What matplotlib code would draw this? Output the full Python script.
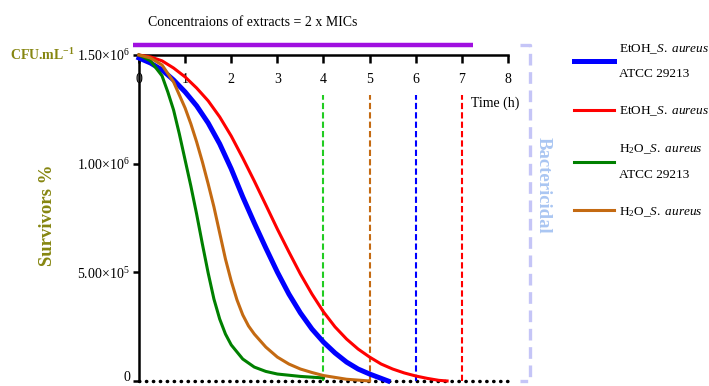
import numpy as np
import matplotlib
matplotlib.use("Agg")
import matplotlib.pyplot as plt

plt.rcParams["font.family"] = ["Liberation Serif", "DejaVu Serif"]
plt.rcParams["mathtext.fontset"] = "custom"
plt.rcParams["mathtext.rm"] = "Liberation Serif"
plt.rcParams["mathtext.it"] = "Liberation Serif:italic"
plt.rcParams["mathtext.bf"] = "Liberation Serif:bold"

# Survivors (CFU/mL), time in hours
t_etoh_atcc = [0, 0.25, 0.5, 0.75, 1.0, 1.25, 1.5, 1.75, 2.0, 2.25, 2.5, 2.75,
               3.0, 3.25, 3.5, 3.75, 4.0, 4.25, 4.5, 4.75, 5.0, 5.25, 5.4]
v_etoh_atcc = [1.486e6, 1.463e6, 1.431e6, 1.385e6, 1.330e6, 1.266e6, 1.187e6,
               1.091e6, 0.976e6, 0.847e6, 0.727e6, 0.612e6, 0.501e6, 0.400e6,
               0.313e6, 0.239e6, 0.179e6, 0.129e6, 0.087e6, 0.055e6, 0.032e6,
               0.012e6, 0.0]

t_etoh = [0, 0.25, 0.5, 0.75, 1.0, 1.25, 1.5, 1.75, 2.0, 2.25, 2.5, 2.75, 3.0,
          3.25, 3.5, 3.75, 4.0, 4.25, 4.5, 4.75, 5.0, 5.25, 5.5, 5.75, 6.0,
          6.25, 6.5, 6.68]
v_etoh = [1.500e6, 1.491e6, 1.473e6, 1.440e6, 1.399e6, 1.348e6, 1.289e6,
          1.215e6, 1.127e6, 1.026e6, 0.920e6, 0.810e6, 0.699e6, 0.594e6,
          0.492e6, 0.400e6, 0.318e6, 0.249e6, 0.193e6, 0.147e6, 0.110e6,
          0.078e6, 0.055e6, 0.037e6, 0.023e6, 0.012e6, 0.003e6, 0.0]

t_h2o_atcc = [0, 0.25, 0.5, 0.625, 0.75, 0.875, 1.0, 1.125, 1.25, 1.375, 1.5,
              1.625, 1.75, 1.875, 2.0, 2.25, 2.5, 2.75, 3.0, 3.5, 4.0]
v_h2o_atcc = [1.500e6, 1.473e6, 1.404e6, 1.330e6, 1.247e6, 1.137e6, 1.017e6,
              0.897e6, 0.768e6, 0.630e6, 0.497e6, 0.377e6, 0.285e6, 0.216e6,
              0.166e6, 0.101e6, 0.064e6, 0.044e6, 0.032e6, 0.021e6, 0.014e6]

t_h2o = [0, 0.25, 0.5, 0.75, 1.0, 1.125, 1.25, 1.375, 1.5, 1.625, 1.75, 1.875,
         2.0, 2.125, 2.25, 2.375, 2.5, 2.75, 3.0, 3.25, 3.5, 3.75, 4.0, 4.5,
         5.0]
v_h2o = [1.500e6, 1.486e6, 1.454e6, 1.376e6, 1.256e6, 1.183e6, 1.100e6,
         1.008e6, 0.907e6, 0.801e6, 0.681e6, 0.561e6, 0.460e6, 0.373e6,
         0.304e6, 0.253e6, 0.216e6, 0.156e6, 0.110e6, 0.078e6, 0.055e6,
         0.039e6, 0.025e6, 0.008e6, 0.0]

# bactericidal time for each extract
kill_times = [4, 5, 6, 7]
kill_colors = ["#22cc22", "#c46a12", "#0000ff", "#ff0000"]

x_ticks = [0, 1, 2, 3, 4, 5, 6, 7, 8]
y_ticks = [0, 5e5, 1e6, 1.5e6]
y_tick_labels = ["0", r"5.00×10$^{\mathregular{5}}$", r"1.00×10$^{\mathregular{6}}$",
                 r"1.50×10$^{\mathregular{6}}$"]

fig = plt.figure(figsize=(7.09, 3.86), dpi=100)
ax = fig.add_axes([0.196, 0.013, 0.5205, 0.8446])
ax.set_xlim(0, 8)
ax.set_ylim(0, 1.5e6)

# zero baseline drawn as dots
ax.plot([0, 8], [0, 0], color="black", lw=2.5, dashes=(0.1, 1.9),
        dash_capstyle="round", clip_on=False, zorder=1)

ax.plot(t_etoh_atcc, v_etoh_atcc, color="#0000ff", lw=3.6, clip_on=False,
        solid_joinstyle="round",
        label="EtOH_$\\mathit{S.\\ aureus}$\nATCC 29213", zorder=3)
ax.plot(t_etoh, v_etoh, color="#ff0000", lw=2.2, clip_on=False,
        solid_joinstyle="round",
        label="EtOH_$\\mathit{S.\\ aureus}$", zorder=3)
ax.plot(t_h2o_atcc, v_h2o_atcc, color="#008000", lw=2.2, clip_on=False,
        solid_joinstyle="round",
        label="H$_{\\mathregular{2}}$O_$\\mathit{S.\\ aureus}$\nATCC 29213", zorder=3)
ax.plot(t_h2o, v_h2o, color="#c46a12", lw=2.2, clip_on=False,
        solid_joinstyle="round",
        label="H$_{\\mathregular{2}}$O_$\\mathit{S.\\ aureus}$", zorder=3)

for kt, kc in zip(kill_times, kill_colors):
    ax.plot([kt, kt], [0, 1.316e6], color=kc, lw=1.5, dashes=(3, 1.5), zorder=2)

# concentration bar and bactericidal bracket
ax.plot([-0.13, 7.25], [1.546e6, 1.546e6], color="#a010e0", lw=3.2,
        solid_capstyle="butt", clip_on=False)
ax.plot([8.26, 8.48, 8.48, 8.26], [1.546e6, 1.546e6, 0, 0], color="#c5c5f7",
        lw=2.4, dashes=(3.5, 2), clip_on=False)
ax.text(8.77, 0.9e6, "Bactericidal", rotation=270, color="#aac6f2",
        fontweight="bold", fontsize=13.5, ha="center", va="center")

ax.text(7.2, 1.28e6, "Time (h)", fontsize=10, ha="left", va="center")

ax.xaxis.tick_top()
ax.set_xticks(x_ticks)
ax.tick_params(axis="x", direction="in", length=6, width=1.8, pad=-22,
               labelsize=10)
ax.set_yticks(y_ticks)
ax.set_yticklabels(y_tick_labels)
ax.tick_params(axis="y", direction="out", length=4.5, width=1.8, pad=2,
               labelsize=10)
ax.get_yticklabels()[0].set_va("baseline")

ax.spines["bottom"].set_visible(False)
ax.spines["right"].set_visible(False)
ax.spines["top"].set_linewidth(1.8)
ax.spines["left"].set_linewidth(1.8)

fig.text(48 / 709, 1 - 215 / 386, "Survivors %", rotation=90, color="#868611",
         fontweight="bold", fontsize=13.5, ha="center", va="center")
fig.text(10 / 709, 1 - 55 / 386, "CFU.mL$^{\\mathregular{-1}}$", color="#868611",
         fontweight="bold", fontsize=10, ha="left", va="center")
fig.text(148 / 709, 1 - 22 / 386, "Concentraions of extracts = 2 x MICs",
         fontsize=10, ha="left", va="center")

leg = ax.legend(loc="upper left", bbox_to_anchor=(574 / 709, 1 - 42 / 386),
                bbox_transform=fig.transFigure, frameon=False, fontsize=9.5,
                handlelength=3.0, handletextpad=0.4, labelspacing=1.85,
                borderpad=0, borderaxespad=0)
for txt in leg.get_texts():
    txt.set_linespacing(2.4)

fig.savefig("out.png", dpi=100)
